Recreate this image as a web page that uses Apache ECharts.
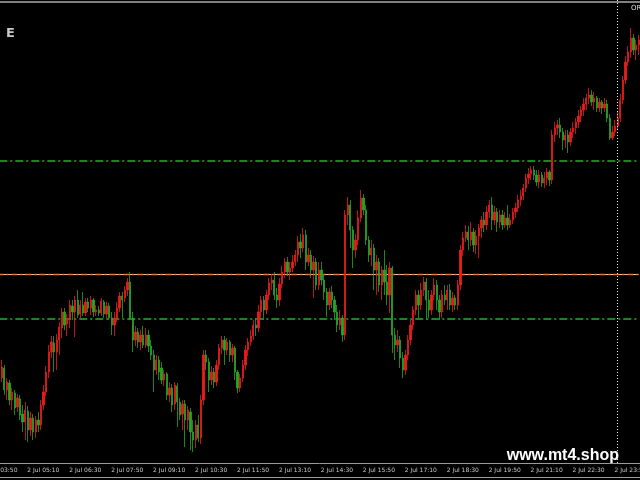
<!DOCTYPE html>
<html><head><meta charset="utf-8">
<script src="https://cdn.jsdelivr.net/npm/echarts/dist/echarts.min.js"></script>
<style>html,body{margin:0;padding:0;background:#000;}#c{width:640px;height:480px;}</style>
</head><body><div id="c"></div>
<script>
// tick labels shown on the time axis (every 80 minutes)
const tickLabels = ['2 Jul 03:50','2 Jul 05:10','2 Jul 06:30','2 Jul 07:50','2 Jul 09:10','2 Jul 10:30','2 Jul 11:50','2 Jul 13:10','2 Jul 14:30','2 Jul 15:50','2 Jul 17:10','2 Jul 18:30','2 Jul 19:50','2 Jul 21:10','2 Jul 22:30','2 Jul 23:50'];
// M5 bars start at 03:50; first bars lie off-screen (no data)
const leadEmpty = 7;
const open = [122,132,110,117,100,107,93,101,86,78,89,70,82,
68,80,75,95,108,128,148,157,148,160,
172,188,176,182,194,188,200,186,195,187,
198,192,200,188,190,187,198,186,194,182,
175,182,192,204,202,210,218,182,160,168,
158,165,155,165,154,145,130,140,132,120,
126,105,112,96,114,98,86,96,80,88,
68,60,75,62,100,145,138,120,128,118,
135,152,160,150,158,145,152,128,112,122,
135,150,158,164,175,172,188,200,190,205,
217,220,205,200,216,228,238,228,232,238,
245,258,252,265,238,245,230,238,215,230,
220,208,195,208,200,188,175,182,165,285,
295,270,250,260,282,302,290,260,245,252,
230,238,215,230,218,205,232,165,155,160,
142,130,145,160,175,190,205,195,210,218,
200,190,205,215,200,188,205,200,210,195,
202,195,215,250,262,268,260,268,255,264,
272,280,275,288,295,280,288,278,285,275,
282,275,280,288,292,300,304,312,322,326,
330,325,318,325,317,322,328,320,365,372,
375,368,360,365,358,368,372,378,384,390,
396,402,405,398,402,392,398,392,396,382,
362,368,374,382,400,420,438,448,462,450,
455];
const close = [133,110,118,100,108,92,102,85,78,90,70,82,68,
80,75,95,108,128,148,158,148,160,173,
188,175,182,195,188,200,185,195,187,198,
192,200,188,190,187,199,186,194,182,175,
182,192,204,200,210,218,182,160,168,158,
165,155,165,154,145,130,140,128,120,126,
105,112,95,115,98,85,96,80,90,68,
60,75,62,100,145,138,120,128,118,135,
152,160,150,158,145,152,128,112,122,135,
150,158,164,175,172,188,200,190,205,217,
220,205,200,216,228,238,228,232,238,245,
258,252,265,238,245,230,238,215,230,220,
208,195,208,200,188,175,182,165,285,295,
270,250,260,282,302,290,260,245,252,230,
238,215,230,218,205,232,165,155,160,142,
130,145,160,175,190,205,195,210,218,200,
190,205,215,200,188,205,200,210,195,202,
195,215,250,262,268,260,268,255,264,272,
280,275,288,295,280,288,278,285,275,282,
275,280,288,292,300,304,312,322,326,330,
325,318,325,317,322,328,320,365,372,375,
368,360,365,358,368,372,378,384,390,396,
402,405,398,402,392,398,392,396,382,362,
368,374,382,400,420,438,448,462,450,455,
460];
const low = [118,105,100,95,90,85,88,80,68,60,58,64,60,
62,68,70,90,104,122,142,128,130,145,
162,170,164,172,180,163,182,182,184,184,
188,185,183,184,184,184,182,182,180,165,
164,178,188,182,198,204,180,148,154,152,
150,152,152,148,140,108,125,120,116,114,
100,98,88,90,73,80,70,53,70,50,
48,52,58,56,95,130,108,115,112,114,
130,146,135,145,138,138,120,107,108,118,
130,144,154,160,164,168,182,180,186,200,
210,200,192,194,212,222,224,220,228,234,
238,242,248,230,234,222,202,210,210,215,
200,183,190,192,180,168,170,158,160,275,
252,232,242,255,278,285,255,238,234,210,
205,208,200,205,195,187,147,140,148,132,
122,125,140,155,170,185,182,190,204,180,
182,185,200,190,180,182,195,190,190,188,
190,190,210,244,258,250,254,248,246,242,
262,268,270,282,270,275,268,272,270,272,
270,272,276,282,288,294,300,308,316,320,
320,314,312,313,312,315,314,316,358,365,
362,350,352,347,354,362,366,372,378,384,
390,396,394,390,388,388,386,388,378,360,
360,364,370,378,396,416,434,442,445,440,
445];
const high = [140,135,122,120,112,110,106,105,95,98,94,88,86,
84,88,100,115,134,155,164,164,166,178,
192,192,186,200,200,204,210,200,208,202,
202,204,202,195,194,202,200,198,197,188,
188,198,208,208,214,222,228,188,174,172,
170,174,172,170,160,150,145,144,138,130,
128,118,116,118,117,102,100,100,94,92,
80,80,85,105,150,150,142,134,132,140,
156,164,164,162,160,156,154,130,126,140,
155,162,170,180,182,195,204,204,210,222,
226,228,212,222,234,242,243,238,245,250,
264,266,272,270,252,250,244,242,238,238,
226,212,212,214,204,195,190,185,290,303,
300,274,266,290,310,306,295,264,260,256,
245,242,234,250,235,238,234,172,170,164,
148,150,165,180,194,210,210,217,223,222,
210,210,222,220,205,210,215,215,216,208,
205,220,255,268,275,274,278,272,270,276,
284,288,294,300,303,294,292,290,290,288,
295,286,292,297,305,310,316,326,332,334,
334,330,330,328,328,332,330,370,378,380,
382,372,370,370,372,378,382,390,394,402,
406,412,410,408,404,402,400,402,400,386,
374,380,388,406,424,444,454,472,466,460,
465];
// horizontal levels and day separator
const greenLevels = [339, 181];
const orangeLevel = 225.5;
const daySeparator = '3 Jul 00:00';

const categories = [];
const startMin = 3 * 60 + 50;
const totalBars = leadEmpty + open.length;
for (let i = 0; i < totalBars; i++) {
  const t = startMin + 5 * i;
  const day = t >= 1440 ? 3 : 2;
  const m = t % 1440;
  const hh = String(Math.floor(m / 60)).padStart(2, '0');
  const mm = String(m % 60).padStart(2, '0');
  categories.push(day + ' Jul ' + hh + ':' + mm);
}
const data = categories.map((c, k) => k < leadEmpty ? '-' :
  [open[k - leadEmpty], close[k - leadEmpty], low[k - leadEmpty], high[k - leadEmpty]]);

const firstCat = categories[0], lastCat = categories[categories.length - 1];
function levelLine(v, style) {
  return {
    type: 'line', data: [[firstCat, v], [lastCat, v]], symbol: 'none', silent: true,
    lineStyle: style, itemStyle: { color: style.color }, emphasis: { disabled: true }, z: 1
  };
}

const showTick = (idx, val) => tickLabels.indexOf(val) >= 0;
const chart = echarts.init(document.getElementById('c'));
chart.setOption({
  backgroundColor: '#000000',
  animation: false,
  title: { text: 'E', left: 1, top: 22, textStyle: { color: '#c8c8c8', fontSize: 13, fontWeight: 'bold', fontFamily: 'DejaVu Sans' } },
  grid: { left: -18, right: 0, top: 0, bottom: 17, containLabel: false, outerBoundsMode: 'none' },
  xAxis: {
    type: 'category', data: categories, boundaryGap: true,
    axisLine: { lineStyle: { color: '#9a9a9a', width: 1 } },
    axisTick: { alignWithLabel: true, interval: showTick, length: 4, lineStyle: { color: '#b0b0b0' } },
    axisLabel: { interval: showTick, align: 'left', margin: 4, padding: [0, 0, 0, 2], fontSize: 6, color: '#c8c8c8', fontFamily: 'DejaVu Sans', hideOverlap: false },
    splitLine: { show: false }
  },
  yAxis: { type: 'value', min: 37, max: 500, show: false, splitLine: { show: false } },
  series: [
    levelLine(greenLevels[0], { color: '#24b424', width: 1.3, type: [8, 3, 2, 3], opacity: 1 }),
    levelLine(greenLevels[1], { color: '#24b424', width: 1.3, type: [8, 3, 2, 3], opacity: 1 }),
    levelLine(orangeLevel, { color: '#dcc8c0', width: 1, type: 'solid', opacity: 1 }),
    levelLine(orangeLevel, { color: '#f07030', width: 1.5, type: [6, 3, 2, 3], opacity: 1 }),
    {
      type: 'candlestick', data: data, barWidth: 1.8, clip: true, z: 2,
      itemStyle: { color: '#ee1c1c', color0: '#24a824', borderColor: '#ee1c1c', borderColor0: '#24a824', borderWidth: 0.8 },
      markLine: { silent: true, symbol: 'none', label: { show: false }, animation: false,
        lineStyle: { color: '#e8e8e8', width: 1, type: [1, 2], opacity: 1 }, data: [{ xAxis: daySeparator }] }
    }
  ],
  graphic: [
    { type: 'rect', shape: { x: 0, y: 1, width: 640, height: 2 }, style: { fill: '#808080' }, silent: true },
    { type: 'rect', shape: { x: 0, y: 477, width: 640, height: 1 }, style: { fill: '#9a9a9a' }, silent: true },
    { type: 'text', style: { text: 'ORDER', x: 631, y: 5, font: '7px "DejaVu Sans"', fill: '#dddddd' }, silent: true },
    { type: 'text', style: { text: 'www.mt4.shop', x: 619, y: 456, align: 'right', verticalAlign: 'middle', font: 'bold 16px "Liberation Sans"', fill: '#ffffff' }, silent: true }
  ]
});
</script></body></html>
